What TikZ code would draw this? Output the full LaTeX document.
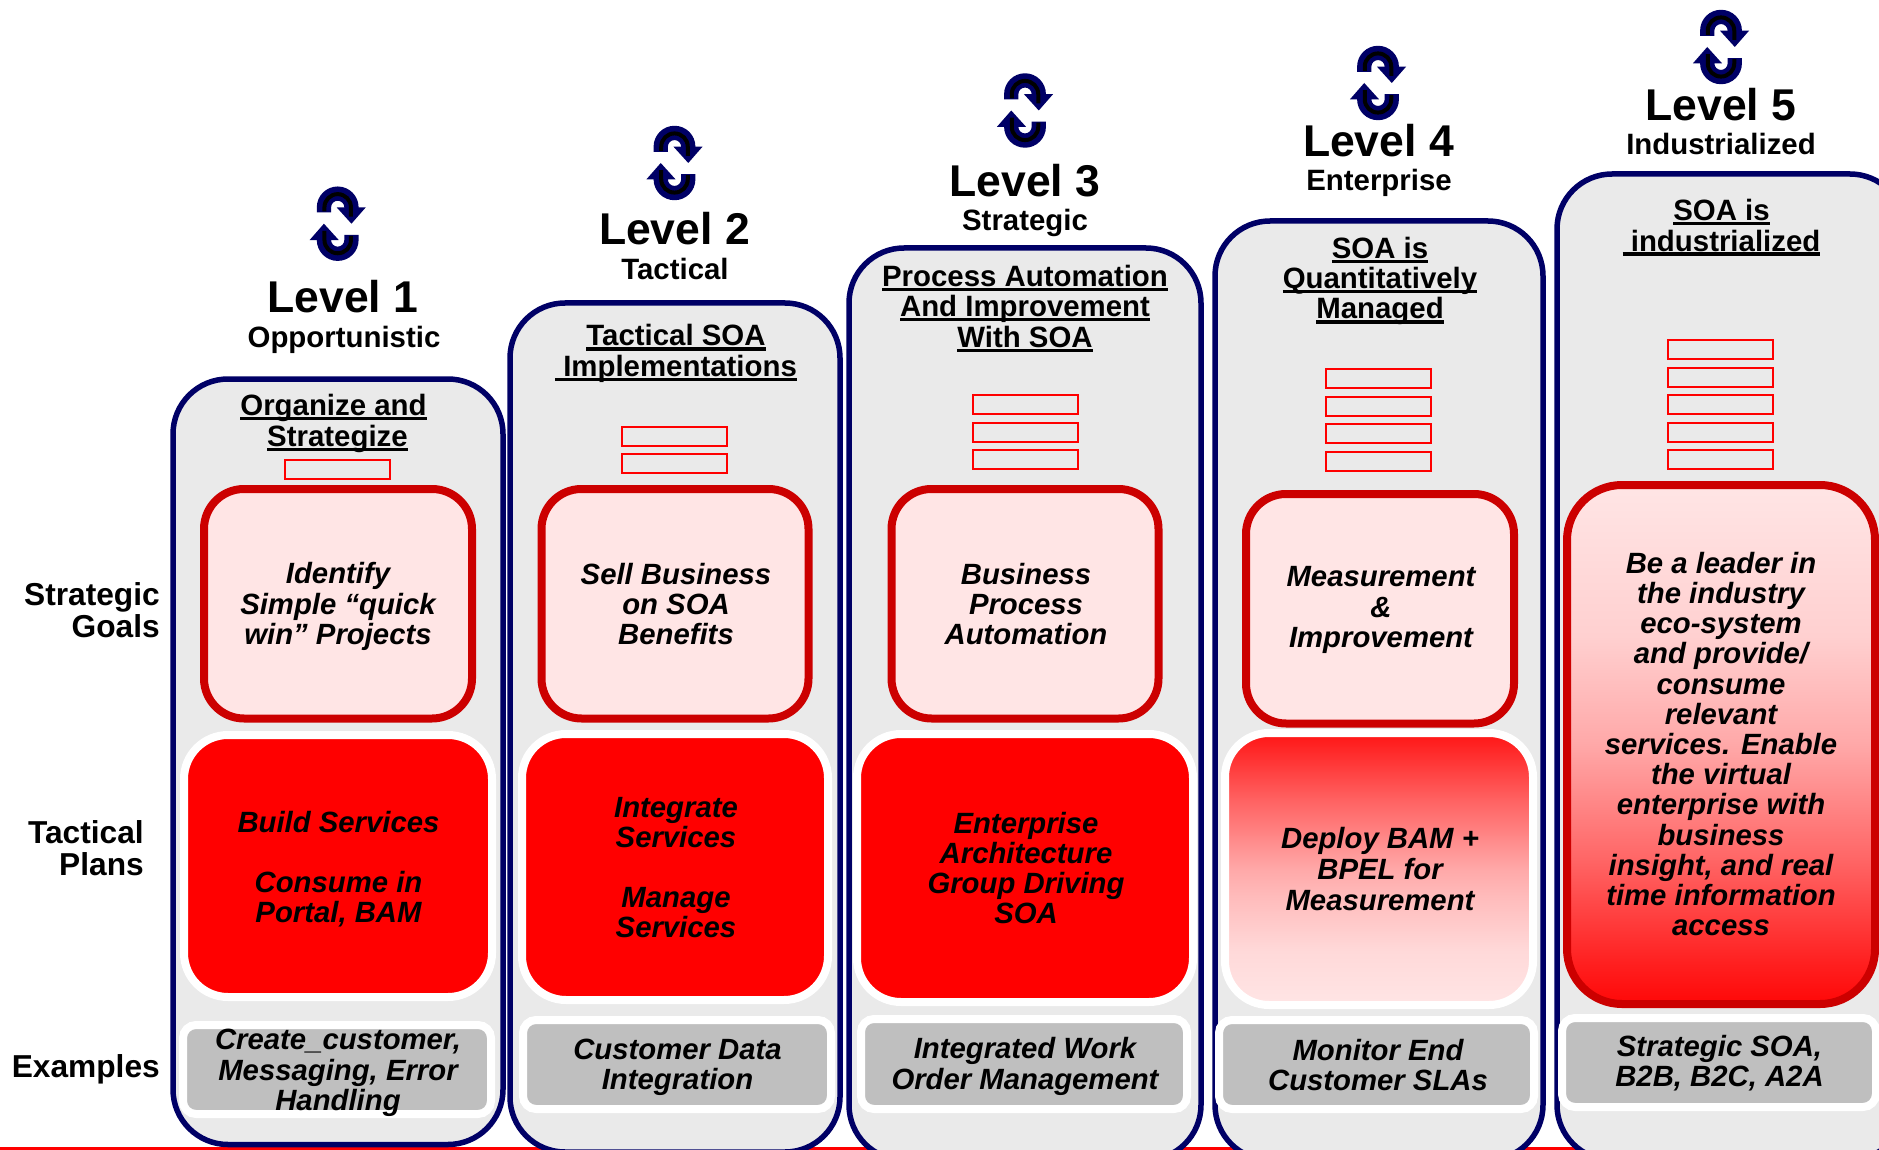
\documentclass[tikz,border=0pt]{standalone}
\usepackage{fontspec}
\setmainfont{Liberation Sans}
\definecolor{navyc}{HTML}{000066}
\definecolor{panelc}{HTML}{EAEAEA}
\definecolor{darkredc}{HTML}{CC0000}
\definecolor{pinkc}{HTML}{FFE5E5}
\definecolor{grayc}{HTML}{BFBFBF}
\pgfdeclareverticalshading{fadetored}{100bp}{rgb(0bp)=(1,0.03,0.03); rgb(25bp)=(1,0.03,0.03); rgb(29bp)=(1,0.125,0.125); rgb(39bp)=(1,0.40,0.40); rgb(50bp)=(1,0.66,0.66); rgb(60.5bp)=(1,0.816,0.816); rgb(75bp)=(1,0.898,0.898); rgb(100bp)=(1,0.898,0.898)}
\pgfdeclareverticalshading{fadefromred}{100bp}{rgb(0bp)=(1,0.898,0.898); rgb(25bp)=(1,0.898,0.898); rgb(35bp)=(1,0.85,0.85); rgb(45bp)=(1,0.733,0.733); rgb(50bp)=(1,0.66,0.66); rgb(63bp)=(1,0.376,0.376); rgb(75bp)=(1,0.08,0.08); rgb(100bp)=(1,0.08,0.08)}
\newcommand{\ulx}[1]{\setbox0\hbox{#1}\leavevmode\rlap{\rule[-4.6pt]{\wd0}{3.2pt}}\box0}
\newcommand{\cycleicon}[2]{%
\begin{scope}[shift={(#1,#2)},scale=1.02]
 \foreach \r in {0,180}{
 \begin{scope}[rotate=\r]
  \fill[navyc] (-20.5,-11) -- (-20.5,-16) arc[start angle=180,end angle=0,x radius=20.5,y radius=-20.5] -- (27.5,-16) -- (13.5,0) -- (-1,-16) -- (6.5,-16) arc[start angle=0,end angle=180,x radius=6.5,y radius=-6.5] -- (-6.5,-11) -- cycle;
  \draw[black,line width=4pt] (-13,-12) -- (-13,-16) arc[start angle=180,end angle=0,x radius=13,y radius=-13] -- (13,-7);
 \end{scope}}
\end{scope}}
\tikzset{
 x=1pt,y=-1pt,
 lvl/.style={font=\bfseries\fontsize{44.5}{46}\selectfont,inner sep=0pt},
 sub/.style={font=\bfseries\fontsize{29.4}{30}\selectfont,inner sep=0pt},
 lab/.style={font=\bfseries\fontsize{29.4}{30.4}\selectfont,inner sep=0pt,align=center},
 side/.style={font=\bfseries\fontsize{31.7}{32.5}\selectfont,inner sep=0pt,align=right},
 body/.style={font=\bfseries\itshape\fontsize{29.3}{30.2}\selectfont,inner sep=0pt,align=center},
 panel/.style={draw=navyc,fill=panelc,line width=5.5pt,rounded corners=55pt},
 slot/.style={draw=red,line width=1.8pt,fill=panelc},
 goal/.style={draw=darkredc,fill=pinkc,line width=8pt,rounded corners=40pt},
 plan/.style={draw=white,fill=red,line width=8pt,rounded corners=44pt},
 example/.style={draw=white,fill=grayc,line width=8pt,rounded corners=13pt},
}
\begin{document}
\begin{tikzpicture}
\useasboundingbox (0,0) rectangle (1879,1150);
\clip (0,0) rectangle (1879,1150);
\fill[white] (0,0) rectangle (1879,1150);
\fill[red] (0,1146.7) rectangle (1879,1150);
% panels
\draw[panel] (173,379) rectangle (503,1144.5);
\draw[panel] (510,303) rectangle (840,1152);
\draw[panel] (849,248) rectangle (1201,1160);
\draw[panel] (1215,221) rectangle (1543,1160);
\draw[panel] (1557,174) rectangle (1905,1160);
% slots
\foreach \y in {460}{\draw[slot] (285,\y) rectangle (390,\y+19);}
\foreach \y in {427,454}{\draw[slot] (622,\y) rectangle (727,\y+19);}
\foreach \y in {395,423,450}{\draw[slot] (973,\y) rectangle (1078,\y+19);}
\foreach \y in {369,397,424,452}{\draw[slot] (1326,\y) rectangle (1431,\y+19);}
\foreach \y in {340,368,395,423,450}{\draw[slot] (1668,\y) rectangle (1773,\y+19);}
% goals
\draw[goal] (204,489) rectangle (472,718.5);
\draw[goal] (541.5,489) rectangle (808.5,718.5);
\draw[goal] (891.5,489) rectangle (1158.5,718.5);
\draw[goal] (1246,494) rectangle (1514,723.5);
\draw[goal,rounded corners=55pt,shading=fadetored] (1567,485) rectangle (1875,1004);
% plans
\draw[plan] (184,735) rectangle (492,997);
\draw[plan] (522,734) rectangle (828,1000);
\draw[plan] (857,734) rectangle (1193,1002);
\draw[plan,shading=fadefromred] (1225,733) rectangle (1533,1005);
% examples
\draw[example] (183,1025) rectangle (491,1114);
\draw[example] (523,1020) rectangle (831,1109);
\draw[example] (861,1019) rectangle (1187,1109);
\draw[example] (1219,1020) rectangle (1534,1109);
\draw[example] (1562,1018) rectangle (1876,1107);
% icons
\cycleicon{337.7}{223.7}
\cycleicon{674.5}{163}
\cycleicon{1025}{110.5}
\cycleicon{1378}{83}
\cycleicon{1721}{47}
% headings
\node[lvl] (l1) at (343,297) {Level 1};
\node[sub] (s1) at (344,339.5) {Opportunistic};
\node[lvl] (l2) at (674.5,228.5) {Level 2};
\node[sub] (s2) at (675,268.5) {Tactical};
\node[lvl] (l3) at (1025,180.5) {Level 3};
\node[sub] (s3) at (1025,222.5) {Strategic};
\node[lvl] (l4) at (1378.5,140.5) {Level 4};
\node[sub] (s4) at (1379,183) {Enterprise};
\node[lvl] (l5) at (1721,104.5) {Level 5};
\node[sub] (s5) at (1721,144) {Industrialized};
% titles
\node[lab] (t1) at (333.5,423.5) {\ulx{Organize and}\\\hspace*{8pt}\ulx{Strategize}};
\node[lab] (t2) at (676,353.5) {\ulx{Tactical SOA}\\\ulx{\ Implementations}};
\node[lab] (t3) at (1025,308.5) {\ulx{Process Automation}\\\ulx{And Improvement}\\\ulx{With SOA}};
\node[lab] (t4) at (1380,281) {\ulx{SOA is}\\\ulx{Quantitatively}\\\ulx{Managed}};
\node[lab] (t5) at (1721.5,227.5) {\ulx{SOA is}\\\ulx{\ industrialized}};
% side labels
\node[side] (sg) [anchor=east] at (160,610) {Strategic\\Goals};
\node[side] (tp) [anchor=east] at (144,848) {Tactical\\Plans};
\node[side] (ex) [anchor=east] at (160,1069.5) {Examples};
% goals text
\node[body] (g1) at (338,606.5) {Identify\\Simple “quick\\win” Projects};
\node[body] (g2) at (676,604) {Sell Business\\on SOA\\Benefits};
\node[body] (g3) at (1026,604) {Business\\Process\\Automation};
\node[body] (g4) at (1381,610) {Measurement\\[0.5pt]\&\\[0.5pt]Improvement};
\node[body] (g5) at (1721,744) {Be a leader in\\the industry\\eco-system\\and provide/\\consume\\relevant\\services. Enable\\the virtual\\enterprise with\\business\\insight, and real\\time information\\access};
% plans text
\node[body] (p1) at (338.5,869) {Build Services\\[30pt]Consume in\\Portal, BAM};
\node[body] (p2) at (676,867.5) {Integrate\\Services\\[30pt]Manage\\Services};
\node[body] (p3) at (1026,868) {Enterprise\\Architecture\\Group Driving\\SOA};
\node[body] (p4) at (1380,869) {Deploy BAM +\\[0.6pt]BPEL for\\[0.6pt]Measurement};
% examples text
\node[body] (e1) at (338,1073) {Create\_customer,\\Messaging, Error\\Handling};
\node[body] (e2) at (677.5,1067) {Customer Data\\Integration};
\node[body] (e3) at (1025,1066.5) {Integrated Work\\Order Management};
\node[body] (e4) at (1378,1065) {Monitor End\\Customer SLAs};
\node[body] (e5) at (1719.5,1063.5) {Strategic SOA,\\B2B, B2C, A2A};
\end{tikzpicture}
\end{document}
